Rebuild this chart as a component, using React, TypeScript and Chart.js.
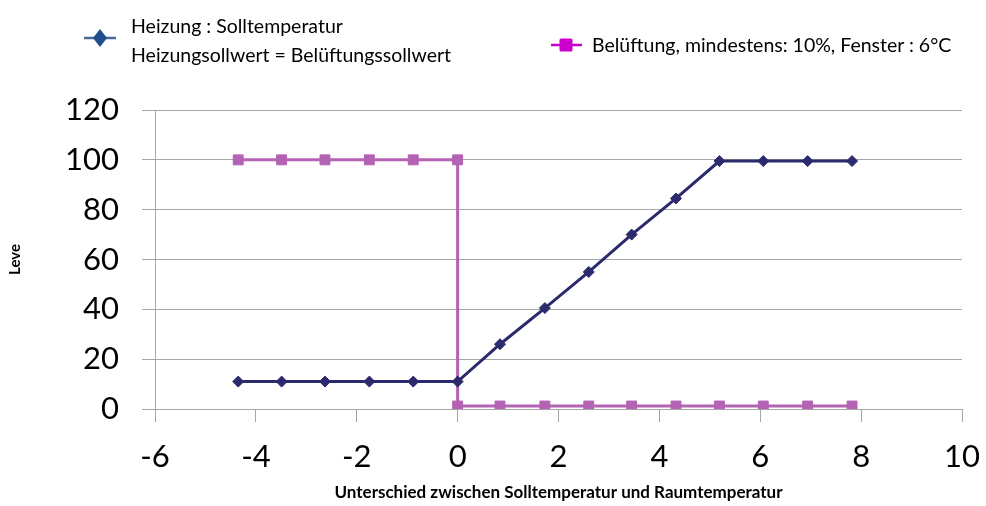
import React, { useEffect, useRef } from "react";
import { Chart, registerables } from "chart.js";

Chart.register(...registerables);

const heatX = [-4.35, -3.49, -2.63, -1.75, -0.88, 0, 0.84, 1.73, 2.6, 3.45, 4.33, 5.19, 6.06, 6.94, 7.82];
const heatY = [11, 11, 11, 11, 11, 11, 26, 40.5, 55, 70, 84.5, 99.5, 99.5, 99.5, 99.5];
const ventX = [-4.35, -3.49, -2.63, -1.75, -0.88, 0, 0, 0.84, 1.73, 2.6, 3.45, 4.33, 5.19, 6.06, 6.94, 7.82];
const ventY = [100, 100, 100, 100, 100, 100, 1.2, 1.2, 1.2, 1.2, 1.2, 1.2, 1.2, 1.2, 1.2, 1.2];

const heatLabel1 = "Heizung : Solltemperatur";
const heatLabel2 = "Heizungsollwert = Belüftungssollwert";
const ventLabel = "Belüftung, mindestens: 10%, Fenster : 6°C";
const xTitle = "Unterschied zwischen Solltemperatur und Raumtemperatur";
const yTitle = "Leve";

const FONT = "Lato, 'Open Sans', sans-serif";
const GRID = "#a6a6a6";

export default function App() {
  const ref = useRef<HTMLCanvasElement | null>(null);

  useEffect(() => {
    if (!ref.current) return;
    const chart = new Chart(ref.current, {
      type: "line",
      data: {
        datasets: [
          {
            label: heatLabel1,
            data: heatX.map((x, i) => ({ x, y: heatY[i] })),
            borderColor: "#2b2a6c",
            backgroundColor: "#2b2a6c",
            borderWidth: 3,
            pointStyle: "rectRot",
            pointRadius: 5.5,
            pointBorderWidth: 1,
            tension: 0,
          },
          {
            label: ventLabel,
            data: ventX.map((x, i) => ({ x, y: ventY[i] })),
            borderColor: "#b462b4",
            backgroundColor: "#b462b4",
            borderWidth: 3,
            pointStyle: "rect",
            pointRadius: 7,
            pointBorderWidth: 1,
            tension: 0,
          },
        ],
      },
      options: {
        responsive: false,
        animation: false,
        layout: { padding: { top: 110, right: 24, left: 0, bottom: 0 } },
        plugins: {
          legend: { display: false },
          tooltip: { enabled: false },
          title: { display: false },
        },
        scales: {
          x: {
            type: "linear",
            min: -6,
            max: 10,
            ticks: {
              stepSize: 2,
              color: "#000",
              font: { family: FONT, size: 31 },
              padding: 16,
              maxRotation: 0,
            },
            grid: {
              drawOnChartArea: false,
              drawTicks: true,
              tickLength: 13,
              color: GRID,
            },
            border: { display: true, color: GRID },
            title: {
              display: true,
              text: xTitle,
              color: "#000",
              font: { family: FONT, size: 17, weight: "bold" },
              padding: { top: 3, bottom: 3 },
            },
            afterFit: (scale: any) => {
              scale.height = 97;
              scale.paddingRight = 0;
              scale.paddingLeft = 0;
            },
          },
          y: {
            min: 0,
            max: 120,
            ticks: {
              stepSize: 20,
              color: "#000",
              font: { family: FONT, size: 31 },
              padding: 23,
            },
            grid: {
              drawTicks: true,
              tickLength: 13,
              color: GRID,
            },
            border: { display: true, color: GRID },
            title: {
              display: true,
              text: yTitle,
              color: "#000",
              font: { family: FONT, size: 15, weight: "bold" },
              padding: { top: 6, bottom: 6 },
            },
            afterFit: (scale: any) => {
              scale.width = 155;
            },
          },
        },
      },
    });
    return () => chart.destroy();
  }, []);

  const textStyle: React.CSSProperties = {
    fontFamily: FONT,
    fontSize: 19.5,
    color: "#000",
    whiteSpace: "nowrap",
    lineHeight: "29px",
  };

  return (
    <div style={{ position: "absolute", left: 0, top: 0, width: 986, height: 506, background: "#fff" }}>
      <canvas ref={ref} width={986} height={506} style={{ width: 986, height: 506, display: "block" }} />
      <svg width={40} height={24} style={{ position: "absolute", left: 82, top: 26 }}>
        <line x1={2} y1={12} x2={34} y2={12} stroke="#4a6896" strokeWidth={2.5} />
        <polygon points="18,3 25,12 18,21 11,12" fill="#1f4e8c" />
      </svg>
      <div style={{ ...textStyle, position: "absolute", left: 131, top: 11 }}>
        <div>{heatLabel1}</div>
        <div>{heatLabel2}</div>
      </div>
      <svg width={40} height={20} style={{ position: "absolute", left: 548, top: 35 }}>
        <line x1={3} y1={10} x2={34} y2={10} stroke="#cc00cc" strokeWidth={2.5} />
        <rect x={11.5} y={3.5} width={13} height={13} rx={1.5} fill="#cc00cc" />
      </svg>
      <div style={{ ...textStyle, position: "absolute", left: 592, top: 30 }}>{ventLabel}</div>
    </div>
  );
}
